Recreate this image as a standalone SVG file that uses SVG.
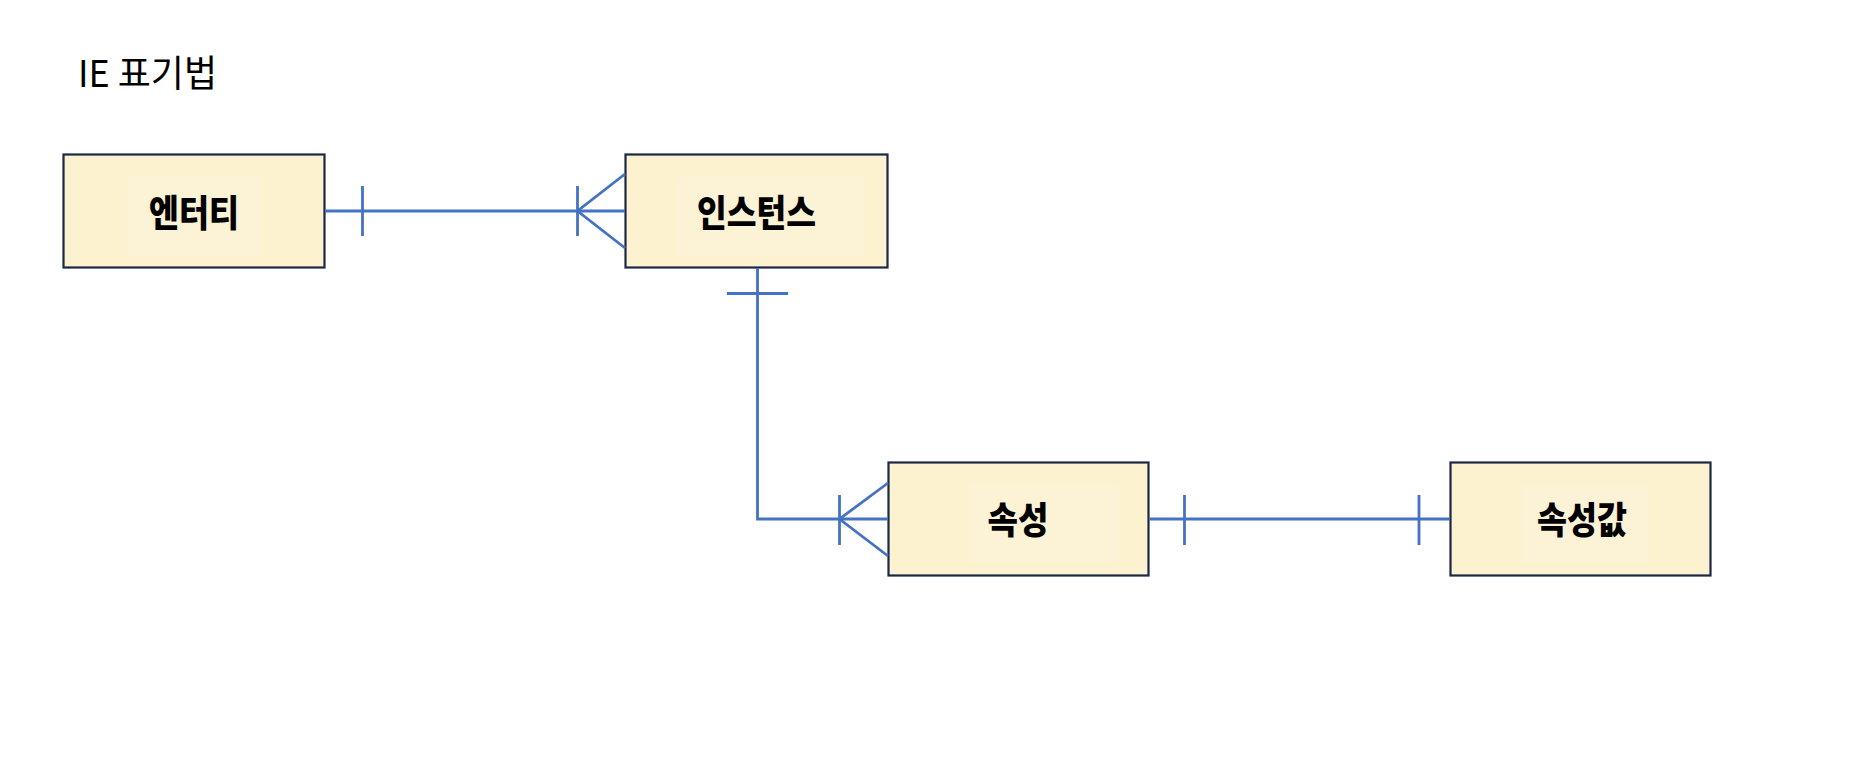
<svg xmlns="http://www.w3.org/2000/svg" width="1857" height="778" viewBox="0 0 1857 778">
<style>
.box{fill:#FDF2D0;stroke:#1A2747;stroke-width:2.2}
.inner{fill:#FCF3D6;stroke:none}
.lbl{font-family:"Noto Sans CJK KR","Noto Sans",sans-serif;font-weight:900;font-size:37px;fill:#000;text-anchor:middle}
.title{font-family:"Noto Sans CJK KR","Noto Sans",sans-serif;font-size:37px;fill:#000}
.ln{stroke:#4472C4;stroke-width:2.8;fill:none}
</style>
<rect width="1857" height="778" fill="#fff"/>
<text class="title" x="78" y="87" textLength="139" lengthAdjust="spacingAndGlyphs">IE 표기법</text>
<g id="entity">
<rect class="box" x="63.5" y="154.5" width="261" height="113"/>
<rect class="inner" x="127" y="177" width="135" height="80"/>
<text class="lbl" x="194" y="227" textLength="90" lengthAdjust="spacingAndGlyphs">엔터티</text>
</g>
<g id="instance">
<rect class="box" x="625.5" y="154.5" width="262" height="113"/>
<rect class="inner" x="676" y="177" width="190" height="80"/>
<text class="lbl" x="756.5" y="227" textLength="119" lengthAdjust="spacingAndGlyphs">인스턴스</text>
</g>
<g id="attribute">
<rect class="box" x="888.5" y="462.5" width="260" height="113"/>
<rect class="inner" x="967" y="484" width="151" height="78"/>
<text class="lbl" x="1018" y="534" textLength="61" lengthAdjust="spacingAndGlyphs">속성</text>
</g>
<g id="attribute-value">
<rect class="box" x="1450.5" y="462.5" width="260" height="113"/>
<rect class="inner" x="1521" y="486" width="129" height="76"/>
<text class="lbl" x="1582" y="534" textLength="90" lengthAdjust="spacingAndGlyphs">속성값</text>
</g>
<g id="connectors">
<!-- entity - instance -->
<line class="ln" x1="325" y1="211" x2="625" y2="211"/>
<line class="ln" x1="362.5" y1="186" x2="362.5" y2="236"/>
<line class="ln" x1="577.5" y1="186" x2="577.5" y2="236"/>
<polyline class="ln" points="625,174 577.5,211 625,248"/>
<!-- instance - attribute -->
<polyline class="ln" points="757.5,268 757.5,519 888,519"/>
<line class="ln" x1="727" y1="293.5" x2="788" y2="293.5"/>
<line class="ln" x1="839.5" y1="495" x2="839.5" y2="545"/>
<polyline class="ln" points="888,483 839.5,519 888,556"/>
<!-- attribute - attribute value -->
<line class="ln" x1="1149" y1="519" x2="1450" y2="519"/>
<line class="ln" x1="1184.5" y1="495" x2="1184.5" y2="545"/>
<line class="ln" x1="1419" y1="495" x2="1419" y2="545"/>
</g>
</svg>
